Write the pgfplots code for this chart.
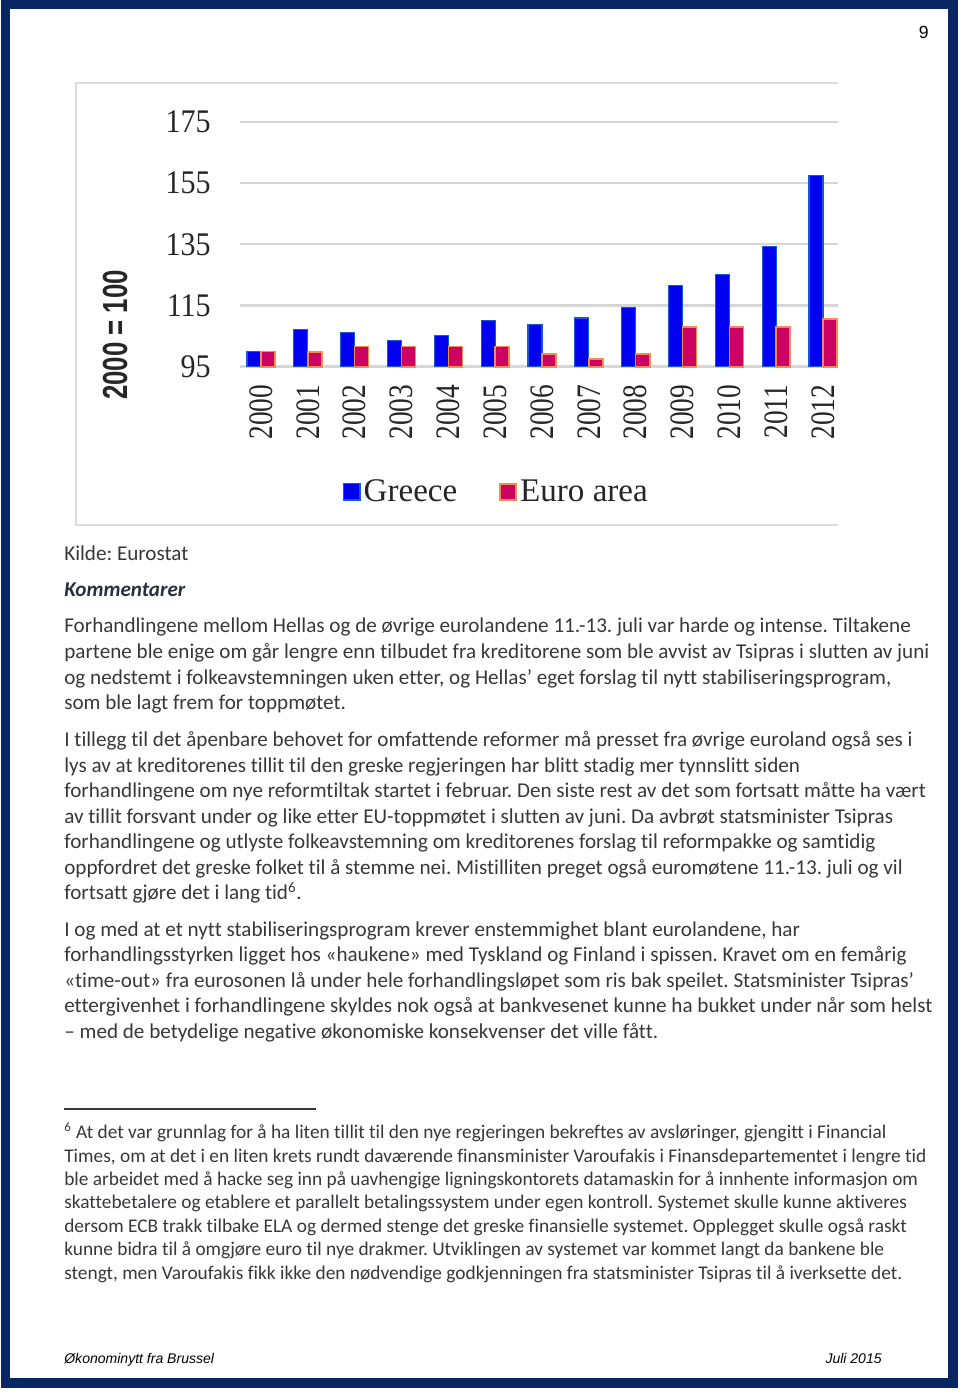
\documentclass[border=0pt]{standalone}
\usepackage{pgfplots}
\pgfplotsset{compat=1.18}
\usepackage{fontspec}
\setmainfont{Carlito}
\newfontfamily\bodyf[Ligatures=NoCommon]{Carlito}
\newfontfamily\arialf{Liberation Sans}
\newfontfamily\chartf{Liberation Serif}
\definecolor{navy}{RGB}{8,38,100}
\definecolor{txt}{RGB}{55,55,60}
\definecolor{kom}{RGB}{40,48,62}
\definecolor{gridgray}{RGB}{214,214,214}
\definecolor{framegray}{RGB}{220,220,220}
\definecolor{gblue}{RGB}{0,0,240}
\definecolor{gedge}{RGB}{20,90,215}
\definecolor{efill}{RGB}{205,0,100}
\definecolor{eedge}{RGB}{242,140,80}
\newcommand\xl[1]{\scalebox{1}[1.25]{#1}}
\newcommand\yl[1]{\scalebox{1}[1.1]{#1}}
\newcommand\tl[2]{\node[anchor=base west, inner sep=0pt, text=txt, font=\bodyf\fontsize{13.1}{15}\selectfont] at (64,#1) {#2};}
\newcommand\fl[2]{\node[anchor=base west, inner sep=0pt, text=txt, font=\bodyf\fontsize{12}{14}\selectfont] at (64,#1) {#2};}
\frenchspacing
\begin{document}
\frenchspacing
\begin{tikzpicture}
\begin{scope}[x=0.62pt, y=-0.62pt, shift={(0pt,865.52pt)}]
\path (0,0) rectangle (960,1396);
\draw[navy, line width=5.6pt] (5.5,4.5) rectangle (953,1383);
\node[anchor=base east, inner sep=0pt, font=\arialf\fontsize{10.9}{12}\selectfont] at (929,38.5) {9};
% chart frame
\draw[framegray, line width=1.2pt] (838,83) -- (76,83) -- (76,525) -- (838,525);
% body text
\tl{561}{Kilde: Eurostat}
\node[anchor=base west, inner sep=0pt, text=kom, font=\bodyf\bfseries\itshape\fontsize{13.1}{15}\selectfont] at (64,597) {Kommentarer};
\tl{633}{Forhandlingene mellom Hellas og de øvrige eurolandene 11.-13. juli var harde og intense. Tiltakene}
\tl{659}{partene ble enige om går lengre enn tilbudet fra kreditorene som ble avvist av Tsipras i slutten av juni}
\tl{685}{og nedstemt i folkeavstemningen uken etter, og Hellas’ eget forslag til nytt stabiliseringsprogram,}
\tl{710}{som ble lagt frem for toppmøtet.}
\tl{747}{I tillegg til det åpenbare behovet for omfattende reformer må presset fra øvrige euroland også ses i}
\tl{773}{lys av at kreditorenes tillit til den greske regjeringen har blitt stadig mer tynnslitt siden}
\tl{798}{forhandlingene om nye reformtiltak startet i februar. Den siste rest av det som fortsatt måtte ha vært}
\tl{824}{av tillit forsvant under og like etter EU-toppmøtet i slutten av juni. Da avbrøt statsminister Tsipras}
\tl{849}{forhandlingene og utlyste folkeavstemning om kreditorenes forslag til reformpakke og samtidig}
\tl{875}{oppfordret det greske folket til å stemme nei. Mistilliten preget også euromøtene 11.-13. juli og vil}
\tl{900}{fortsatt gjøre det i lang tid\textsuperscript{6}.}
\tl{937}{I og med at et nytt stabiliseringsprogram krever enstemmighet blant eurolandene, har}
\tl{962}{forhandlingsstyrken ligget hos «haukene» med Tyskland og Finland i spissen. Kravet om en femårig}
\tl{988}{«time-out» fra eurosonen lå under hele forhandlingsløpet som ris bak speilet. Statsminister Tsipras’}
\tl{1013}{ettergivenhet i forhandlingene skyldes nok også at bankvesenet kunne ha bukket under når som helst}
\tl{1039}{– med de betydelige negative økonomiske konsekvenser det ville fått.}
% footnote
\draw[txt, line width=0.7pt] (64,1109) -- (316,1109);
\fl{1139}{\textsuperscript{6} At det var grunnlag for å ha liten tillit til den nye regjeringen bekreftes av avsløringer, gjengitt i Financial}
\fl{1162.5}{Times, om at det i en liten krets rundt daværende finansminister Varoufakis i Finansdepartementet i lengre tid}
\fl{1186}{ble arbeidet med å hacke seg inn på uavhengige ligningskontorets datamaskin for å innhente informasjon om}
\fl{1209}{skattebetalere og etablere et parallelt betalingssystem under egen kontroll. Systemet skulle kunne aktiveres}
\fl{1233}{dersom ECB trakk tilbake ELA og dermed stenge det greske finansielle systemet. Opplegget skulle også raskt}
\fl{1256}{kunne bidra til å omgjøre euro til nye drakmer. Utviklingen av systemet var kommet langt da bankene ble}
\fl{1280}{stengt, men Varoufakis fikk ikke den nødvendige godkjenningen fra statsminister Tsipras til å iverksette det.}
% footer
\node[anchor=base west, inner sep=0pt, font=\arialf\itshape\fontsize{8.7}{10}\selectfont] at (64,1364) {Økonominytt fra Brussel};
\node[anchor=base east, inner sep=0pt, font=\arialf\itshape\fontsize{8.7}{10}\selectfont] at (882,1364) {Juli 2015};
\end{scope}
\begin{axis}[
  at={(148.8pt,638.17pt)}, anchor=south west,
  scale only axis, width=370.76pt, height=151.71pt,
  xmin=-0.448, xmax=12.32, ymin=95, ymax=175,
  ybar=0pt, bar width=8.7pt,
  axis line style={draw=none},
  major tick length=0pt,
  xtick={0,...,12},
  xticklabels={\xl{2000},\xl{2001},\xl{2002},\xl{2003},\xl{2004},\xl{2005},\xl{2006},\xl{2007},\xl{2008},\xl{2009},\xl{2010},\xl{2011},\xl{2012}},
  ytick={95,115,135,155,175},
  yticklabels={\yl{95},\yl{115},\yl{135},\yl{155},\yl{175}},
  extra y ticks={95}, extra y tick labels={},
  extra y tick style={grid style={gridgray, line width=1.9pt}},
  ymajorgrids, grid style={gridgray, line width=1.3pt},
  xticklabel style={rotate=90, anchor=east, inner sep=0pt, font=\chartf\fontsize{17}{17}\selectfont, text=black!85},
  yticklabel style={anchor=east, inner sep=0pt, font=\chartf\fontsize{18.6}{19}\selectfont, text=black!85},
  xticklabel shift=11pt, yticklabel shift=18pt,
  ylabel={\scalebox{1}[1.35]{2000 = 100}},
  ylabel style={at={(axis description cs:-0.209,0.13)}, anchor=center, font=\arialf\bfseries\fontsize{16}{16}\selectfont, text=black!85},
  legend columns=2,
  legend image code/.code={\draw[#1] (0pt,-5pt) rectangle (10pt,5pt);},
  legend style={draw=none, fill=none, at={(0.43,-0.512)}, anchor=center,
    font=\chartf\fontsize{20.5}{22}\selectfont, text=black!85,
    /tikz/every even column/.append style={column sep=24pt}},
  clip=false,
]
\addplot[fill=gblue, draw=gedge, line width=0.7pt] coordinates {
(0,100.0) (1,107.3) (2,106.3) (3,103.7) (4,105.3) (5,110.1) (6,108.9)
(7,110.9) (8,114.3) (9,121.6) (10,125.1) (11,134.3) (12,157.6)};
\addlegendentry{Greece}
\addplot[fill=efill, draw=eedge, line width=1pt] coordinates {
(0,100.0) (1,99.9) (2,101.6) (3,101.6) (4,101.6) (5,101.6) (6,99.2)
(7,97.6) (8,99.2) (9,108.0) (10,108.0) (11,108.0) (12,110.5)};
\addlegendentry{Euro area}
\end{axis}
\end{tikzpicture}
\end{document}
